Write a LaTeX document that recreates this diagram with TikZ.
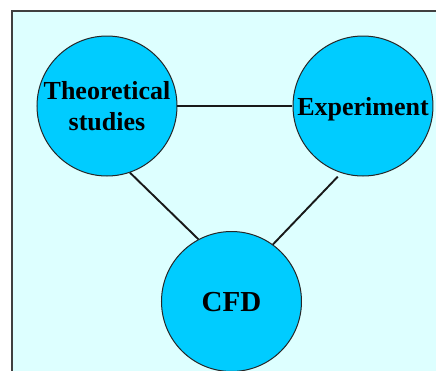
\documentclass[tikz,border=0pt]{standalone}
\usepackage{fontspec}
\setmainfont{Liberation Serif}
\definecolor{fondcyan}{HTML}{DDFFFF}
\definecolor{bulle}{HTML}{00CCFF}
\definecolor{bord}{HTML}{404040}
\begin{document}
\begin{tikzpicture}[x=0.5pt,y=-0.5pt]
        % Styles pour les bulles et les liens
        \tikzstyle{topic} = [circle,draw=black!85,line width=0.5pt,fill=bulle,
            minimum size=70pt,inner sep=0pt,align=center,text depth=0pt,
            font=\bfseries\fontsize{13}{15.5}\selectfont]
        \tikzstyle{link} = [line width=0.95pt,black!90]

        % Cadre du fond
        \clip (0,0) rectangle (436,371);
        \draw[fill=fondcyan,draw=bord,line width=0.7pt] (12,11) rectangle (460,400);

        % Les trois bulles
        \node[topic] (theo) at (107,106) {Theoretical\\studies};
        \node[topic] (exp) at (363,106) {Experiment};
        \node[topic,font=\bfseries\fontsize{14.5}{16}\selectfont] (cfd) at (231.5,301.5) {CFD};

        % Liens entre les bulles
        \draw[link] (theo) -- (exp);
        \draw[link] (theo.-71) -- (cfd.118);
        \draw[link,shorten <=2.5pt] (exp.-108) -- (cfd.54);
\end{tikzpicture}
\end{document}
